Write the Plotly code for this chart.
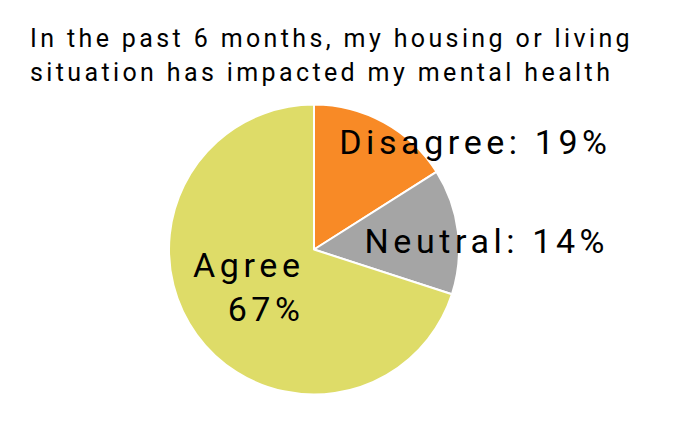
import plotly.graph_objects as go

# slices as drawn (clockwise from 12 o'clock)
labels = ['Disagree', 'Neutral', 'Agree']
values = [16, 14, 70]
label_text = ['Disagree: 19%', 'Neutral: 14%', 'Agree<br>67%']
title_lines = ['In the past 6 months, my housing or living',
               'situation has impacted my mental health']
colors = ['#F88A26', '#A5A5A5', '#DEDC68']

W, H = 700, 436
OFF = 8  # page body margin


def fx(v):
    return (v - OFF) / W


def fy(v):
    return 1 - (v - OFF) / H


fig = go.Figure(go.Pie(
    labels=labels,
    values=values,
    sort=False,
    direction='clockwise',
    rotation=0,
    marker=dict(colors=colors, line=dict(color='white', width=2)),
    textinfo='none',
    hoverinfo='label+percent',
    showlegend=False,
    domain=dict(x=[fx(169), fx(459)], y=[fy(394.5), fy(104.5)]),
))

# slice labels placed like the original
label_pos = [(475, 142, 'center', 'center'),
             (487, 240.5, 'center', 'center'),
             (307, 287, 'right', 'right')]
for txt, (px_, py_, al, xa) in zip(label_text, label_pos):
    fig.add_annotation(
        x=fx(px_), y=fy(py_), xref='paper', yref='paper',
        text=txt, showarrow=False, align=al,
        xanchor=xa, yanchor='middle',
        font=dict(family='Roboto', size=34, color='black'),
    )

for txt, py_ in zip(title_lines, [38.5, 73]):
    fig.add_annotation(
        x=fx(28), y=fy(py_), xref='paper', yref='paper',
        text=txt, showarrow=False, align='left',
        xanchor='left', yanchor='middle',
        font=dict(family='Roboto', size=25, color='black'),
    )

fig.update_layout(
    width=W, height=H,
    margin=dict(l=0, r=0, t=0, b=0),
    paper_bgcolor='white',
)

# the original text is set with wide letter spacing
spacing = ("document.querySelectorAll('.annotation-text').forEach(function(t){"
           "t.style.letterSpacing='0.135em';});")

fig.write_html('out.html', post_script=spacing)
